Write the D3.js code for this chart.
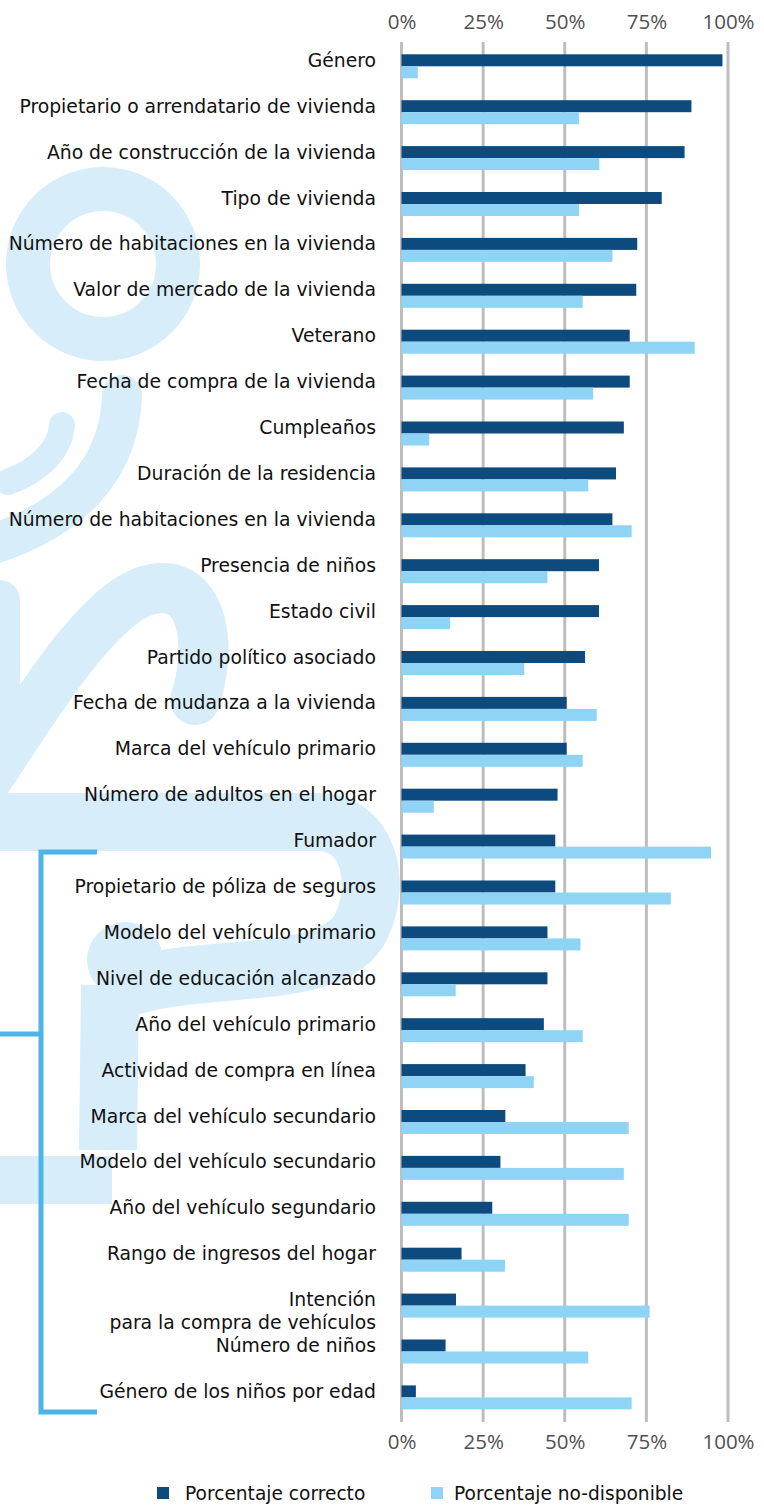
<!DOCTYPE html>
<html>
<head>
<meta charset="utf-8">
<script src="https://cdn.jsdelivr.net/npm/d3@7"></script>
<style>
  html, body { margin: 0; padding: 0; background: #ffffff; }
  svg { display: block; }
</style>
</head>
<body>
<div id="chart"></div>
<script>
// ---------- DATA ----------
const categories = [
  "Género",
  "Propietario o arrendatario de vivienda",
  "Año de construcción de la vivienda",
  "Tipo de vivienda",
  "Número de habitaciones en la vivienda",
  "Valor de mercado de la vivienda",
  "Veterano",
  "Fecha de compra de la vivienda",
  "Cumpleaños",
  "Duración de la residencia",
  "Número de habitaciones en la vivienda",
  "Presencia de niños",
  "Estado civil",
  "Partido político asociado",
  "Fecha de mudanza a la vivienda",
  "Marca del vehículo primario",
  "Número de adultos en el hogar",
  "Fumador",
  "Propietario de póliza de seguros",
  "Modelo del vehículo primario",
  "Nivel de educación alcanzado",
  "Año del vehículo primario",
  "Actividad de compra en línea",
  "Marca del vehículo secundario",
  "Modelo del vehículo secundario",
  "Año del vehículo segundario",
  "Rango de ingresos del hogar",
  "Intención\npara la compra de vehículos",
  "Número de niños",
  "Género de los niños por edad"
];
const correctPct = [98.3, 88.8, 86.7, 79.7, 72.2, 71.9, 69.9, 69.9, 68.1, 65.7,
                    64.6, 60.5, 60.5, 56.2, 50.6, 50.6, 47.8, 47.1, 47.1, 44.7,
                    44.7, 43.6, 38.0, 31.8, 30.3, 27.8, 18.4, 16.7, 13.5, 4.4];
const notAvailablePct = [5.0, 54.4, 60.6, 54.4, 64.6, 55.5, 89.8, 58.7, 8.5, 57.2,
                         70.5, 44.7, 14.9, 37.6, 59.8, 55.5, 9.9, 94.8, 82.5, 54.8,
                         16.6, 55.5, 40.5, 69.6, 68.1, 69.6, 31.7, 76.0, 57.2, 70.5];
const seriesNames = ["Porcentaje correcto", "Porcentaje no-disponible"];
const seriesKeys = ["correct", "na"];
const tickValues = [0, 25, 50, 75, 100];

// ---------- SETUP ----------
const W = 764, H = 1507;
const colors = { correct: "#0d4a7e", na: "#8fd4f5" };
const svg = d3.select("#chart").append("svg").attr("width", W).attr("height", H);

const x = d3.scaleLinear().domain([0, 100]).range([401.5, 728]);
const idx = d3.range(categories.length);
const y = d3.scaleBand().domain(idx).range([43.35, 1420.35])
  .paddingInner(0.477).paddingOuter(0.2385);
const ySub = d3.scaleBand().domain(seriesKeys).range([0, y.bandwidth()]);

const rows = idx.map(i => ({ i, label: categories[i], correct: correctPct[i], na: notAvailablePct[i] }));

// ---------- WATERMARK DECORATION ----------
const wm = "#d7eefa";
const deco = svg.append("g").attr("fill", "none").attr("stroke", wm).attr("stroke-linecap", "round");
deco.append("circle").attr("cx", 103).attr("cy", 264).attr("r", 75).attr("stroke-width", 44);
deco.append("path").attr("d", "M122 395 C120 470 70 520 -10 545").attr("stroke-width", 40);
deco.append("path").attr("d", "M62 425 C60 450 40 470 8 482").attr("stroke-width", 26);
deco.append("path").attr("d", "M-20 790 C40 700 105 590 160 588 C205 586 212 650 195 700").attr("stroke-width", 50);
deco.append("path").attr("d", "M0 600 L0 700").attr("stroke-width", 40);
deco.append("path").attr("d", "M-10 822 L318 822 C368 822 382 880 362 925 C335 985 200 960 120 990").attr("stroke-width", 58).attr("stroke-linecap", "butt");
deco.append("path").attr("d", "M110 985 L108 1150").attr("stroke-width", 58).attr("stroke-linecap", "butt");
deco.append("path").attr("d", "M-10 1180 L112 1180").attr("stroke-width", 48).attr("stroke-linecap", "butt");
deco.append("circle").attr("cx", 125).attr("cy", 960).attr("r", 38).attr("fill", wm).attr("stroke", "none");

// bracket
const br = svg.append("g").attr("fill", "none").attr("stroke", "#4cb4e7").attr("stroke-width", 5);
br.append("path").attr("d", "M97 852 L41 852 L41 1412 L97 1412");
br.append("path").attr("d", "M0 1034 L41 1034");

// ---------- GRID ----------
const gridTop = 42, gridBottom = 1422;
svg.append("g").selectAll("line").data(tickValues).join("line")
  .attr("x1", d => x(d)).attr("x2", d => x(d))
  .attr("y1", gridTop).attr("y2", gridBottom)
  .attr("stroke", "#bdbdbd").attr("stroke-width", 3);

// ---------- AXES LABELS ----------
const fmt = d => d + "%";
const axTop = d3.axisTop(x).tickValues(tickValues).tickFormat(fmt).tickSize(0).tickPadding(0);
const axBot = d3.axisBottom(x).tickValues(tickValues).tickFormat(fmt).tickSize(0).tickPadding(0);
const gTop = svg.append("g").attr("transform", "translate(0,29)").call(axTop);
const gBot = svg.append("g").attr("transform", "translate(0,1434)").call(axBot);
[gTop, gBot].forEach(g => {
  g.select(".domain").remove();
  g.selectAll("text")
    .attr("font-family", "'Open Sans', sans-serif")
    .attr("font-weight", 400)
    .attr("font-size", 20.5)
    .attr("fill", "#505050");
});
gBot.selectAll("text").attr("dy", "0.71em");

// ---------- BARS ----------
const gRows = svg.append("g").selectAll("g").data(rows).join("g")
  .attr("transform", d => `translate(0,${y(d.i)})`);
gRows.selectAll("rect").data(d => seriesKeys.map(k => ({ key: k, value: d[k] }))).join("rect")
  .attr("x", x(0))
  .attr("y", d => ySub(d.key))
  .attr("width", d => x(d.value) - x(0))
  .attr("height", ySub.bandwidth())
  .attr("fill", d => colors[d.key]);

// ---------- CATEGORY LABELS ----------
const labelSize = 18.8, lineH = 23;
svg.append("g").selectAll("text").data(rows).join("text")
  .attr("x", 376)
  .attr("y", d => y(d.i) + ySub("correct") + ySub.bandwidth() / 2)
  .attr("text-anchor", "end")
  .attr("font-family", "'DejaVu Sans', sans-serif")
  .attr("font-size", labelSize)
  .attr("fill", "#111")
  .each(function (d) {
    const lines = d.label.split("\n");
    d3.select(this).selectAll("tspan").data(lines).join("tspan")
      .attr("x", 376)
      .attr("dy", (l, j) => j === 0 ? "0.35em" : lineH)
      .text(l => l);
  });

// ---------- LEGEND ----------
const legendItems = [
  { key: "correct", name: seriesNames[0], sx: 157, tx: 185 },
  { key: "na", name: seriesNames[1], sx: 431, tx: 454 }
];
const lg = svg.append("g");
lg.selectAll("rect").data(legendItems).join("rect")
  .attr("x", d => d.sx).attr("y", 1487).attr("width", 12).attr("height", 12)
  .attr("fill", d => colors[d.key]);
lg.selectAll("text").data(legendItems).join("text")
  .attr("x", d => d.tx).attr("y", 1500)
  .attr("font-family", "'DejaVu Sans', sans-serif")
  .attr("font-size", 18.6)
  .attr("fill", "#111")
  .text(d => d.name);
</script>
</body>
</html>
